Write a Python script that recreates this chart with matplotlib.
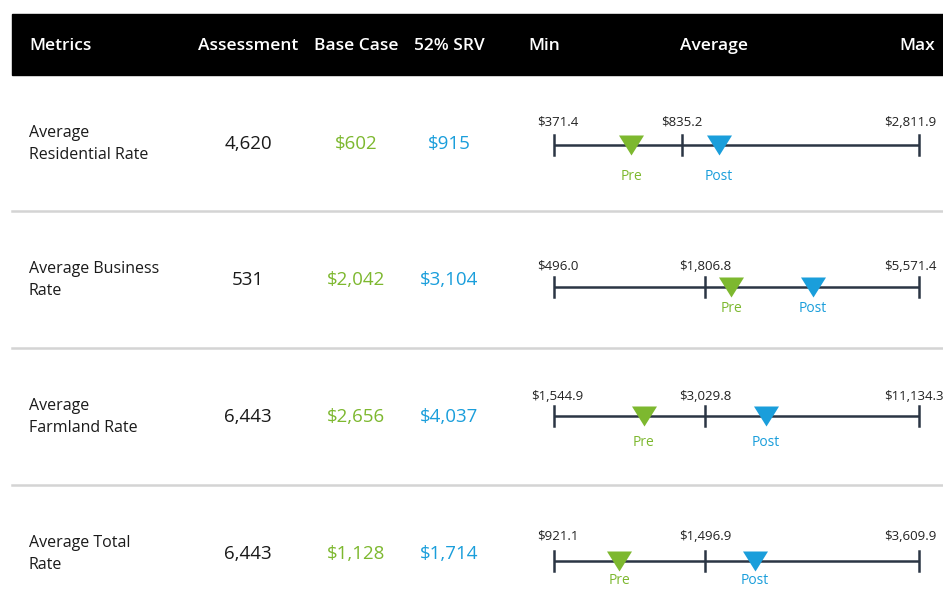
import matplotlib
matplotlib.use("Agg")
import matplotlib.pyplot as plt
from matplotlib.patches import Rectangle

# ---- data ----
metrics = ["Average\nResidential Rate", "Average Business\nRate",
           "Average\nFarmland Rate", "Average Total\nRate"]
assessment = ["4,620", "531", "6,443", "6,443"]
base_case = ["$602", "$2,042", "$2,656", "$1,128"]
srv_52 = ["$915", "$3,104", "$4,037", "$1,714"]
min_lbl = ["$371.4", "$496.0", "$1,544.9", "$921.1"]
avg_lbl = ["$835.2", "$1,806.8", "$3,029.8", "$1,496.9"]
max_lbl = ["$2,811.9", "$5,571.4", "$11,134.3", "$3,609.9"]
# positions on the gauge (0 = min, 1 = max) as drawn in the reference
avg_pos = [0.35, 0.414, 0.414, 0.414]
pre_pos = [0.211, 0.486, 0.246, 0.179]
post_pos = [0.452, 0.709, 0.581, 0.551]

headers = ["Metrics", "Assessment", "Base Case", "52% SRV", "Min", "Average", "Max"]

GREEN = "#7db82f"
BLUE = "#1a9edb"
LINE = "#2b3544"
FONT = "Open Sans"

W, H = 943, 612
fig = plt.figure(figsize=(W / 100, H / 100), dpi=100)
ax = fig.add_axes([0, 0, 1, 1])
ax.set_xlim(0, W)
ax.set_ylim(H, 0)
ax.axis("off")

# header bar
ax.add_patch(Rectangle((12, 14), W - 12, 61, color="black"))
hx = [29, 248, 356, 449, 544, 714, 917]
ha = ["left", "center", "center", "center", "center", "center", "center"]
for x, h, a in zip(hx, headers, ha):
    ax.text(x, 46, h, color="white", fontsize=12.5, fontweight="semibold",
            ha=a, va="center", family=FONT)

row_y = [144, 280, 417, 554]
gauge_y = [145, 287, 416, 561]
top_off = [-23, -21, -19, -25]
bot_off = [31, 22, 27, 20]

# separators
for y in [211, 348, 485]:
    ax.plot([12, W], [y, y], color="#d4d4d4", lw=1.8)

for i in range(4):
    y = row_y[i]
    ax.text(29, y, metrics[i], fontsize=11.5, ha="left", va="center",
            family=FONT, color="#1a1a1a", linespacing=1.45)
    ax.text(248, y, assessment[i], fontsize=13.5, ha="center", va="center",
            family=FONT, color="#1a1a1a")
    ax.text(356, y, base_case[i], fontsize=13.5, ha="center", va="center",
            family=FONT, color=GREEN)
    ax.text(449, y, srv_52[i], fontsize=13.5, ha="center", va="center",
            family=FONT, color=BLUE)

    # gauge axes: 0 -> x=554px, 1 -> x=919px, y in px around the line
    gy = gauge_y[i]
    left, right = 520, W
    g = fig.add_axes([left / W, (H - gy - 45) / H, (right - left) / W, 90 / H])
    g.set_xlim((left - 554) / 365, (right - 554) / 365)
    g.set_ylim(45, -45)
    g.axis("off")
    g.plot([0, 1], [0, 0], color=LINE, lw=1.8, solid_capstyle="butt")
    for xv in [0, avg_pos[i], 1]:
        g.plot([xv, xv], [-10, 10], color=LINE, lw=1.8)
    tri = [(-1.25, 1), (1.25, 1), (0, -1)]
    g.plot([pre_pos[i]], [0], marker=tri, ms=18,
           color=GREEN, mec="none", ls="none")
    g.plot([post_pos[i]], [0], marker=tri, ms=18,
           color=BLUE, mec="none", ls="none")
    g.text(pre_pos[i], bot_off[i], "Pre", color=GREEN, fontsize=10,
           ha="center", va="center", family=FONT)
    g.text(post_pos[i], bot_off[i], "Post", color=BLUE, fontsize=10,
           ha="center", va="center", family=FONT)
    g.text(0.01, top_off[i], min_lbl[i], fontsize=9.5, ha="center", va="center",
           family=FONT, color="#222222")
    g.text(avg_pos[i], top_off[i], avg_lbl[i], fontsize=9.5, ha="center",
           va="center", family=FONT, color="#222222")
    g.text(0.905, top_off[i], max_lbl[i], fontsize=9.5, ha="left", va="center",
           family=FONT, color="#222222", clip_on=False)

fig.savefig("out.png", dpi=100)
